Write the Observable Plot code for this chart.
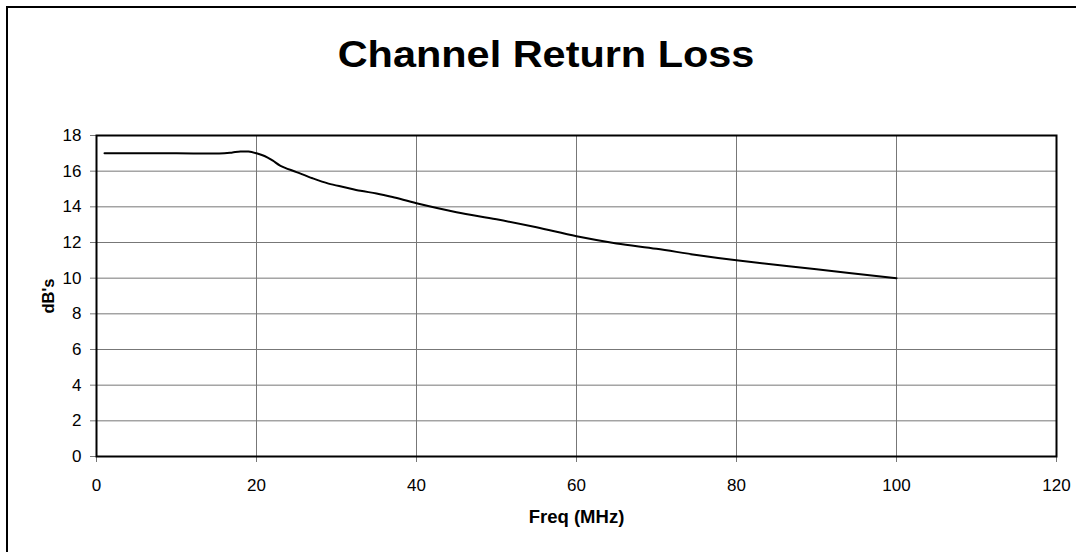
<!DOCTYPE html>
<html>
<head>
<meta charset="utf-8">
<script src="https://cdn.jsdelivr.net/npm/d3@7"></script>
<script src="https://cdn.jsdelivr.net/npm/@observablehq/plot@0.6"></script>
<style>
  html, body { margin: 0; padding: 0; background: #fff; overflow: hidden; }
  #wrap { width: 1076px; height: 552px; position: relative; overflow: hidden; font-family: "Liberation Sans", Arial, sans-serif; background: #fff; }
  #edgeL { position: absolute; left: 6px; top: 6px; width: 2px; height: 600px; background: #000; }
  #edgeT { position: absolute; left: 6px; top: 6px; width: 1200px; height: 2px; background: #000; }
  #title { position: relative; height: 80px; width: 1076px; box-sizing: border-box; padding-top: 36px; line-height: 1; text-align: center; font-size: 37px; font-weight: bold; color: #000; }
  #title span { display: inline-block; transform: translateX(8px) scaleX(1.12); transform-origin: center; }
  #chart { position: relative; width: 1076px; }
  #chart svg { display: block; }
</style>
</head>
<body>
<div id="wrap">
<div id="edgeL"></div>
<div id="edgeT"></div>
<div id="title"><span>Channel Return Loss</span></div>
<div id="chart"></div>
</div>
<script>
// Data
const freqMHz = [1, 5, 10, 16, 17, 18, 19, 20, 21, 22, 23, 25, 27, 29, 31, 33, 35, 37, 40, 45, 50, 55, 60, 65, 70, 75, 80, 90, 100];
const returnLossDb = [17, 17, 17, 17, 17.05, 17.1, 17.1, 17.0, 16.85, 16.6, 16.3, 15.95, 15.6, 15.3, 15.1, 14.9, 14.75, 14.55, 14.2, 13.7, 13.3, 12.85, 12.35, 11.95, 11.65, 11.3, 11.0, 10.5, 10.0];
const xTicks = [0, 20, 40, 60, 80, 100, 120];
const yTicks = [0, 2, 4, 6, 8, 10, 12, 14, 16, 18];

const data = freqMHz.map((f, i) => ({f, db: returnLossDb[i]}));

const chart = Plot.plot({
  width: 1076,
  height: 472,
  marginLeft: 96,
  marginRight: 20,
  marginTop: 55,
  marginBottom: 96,
  style: {fontFamily: "'Liberation Sans', Arial, sans-serif", fontSize: "17px", color: "#000", background: "transparent"},
  x: {domain: [0, 120]},
  y: {domain: [0, 18]},
  marks: [
    Plot.gridX(xTicks.slice(1), {stroke: "#777", strokeOpacity: 1, strokeWidth: 1}),
    Plot.gridY(yTicks.slice(1), {stroke: "#777", strokeOpacity: 1, strokeWidth: 1}),
    Plot.axisX(xTicks, {tickSize: 6, tickPadding: 16, stroke: "#777", label: "Freq (MHz)", labelAnchor: "center", labelArrow: "none", labelOffset: 66, fontSize: 17}),
    Plot.axisY(yTicks, {tickSize: 6, tickPadding: 9, stroke: "#777", label: "dB's", labelAnchor: "center", labelArrow: "none", labelOffset: 54, fontSize: 17}),
    Plot.frame({stroke: "#000", strokeWidth: 2}),
    Plot.line(data, {x: "f", y: "db", stroke: "#000", strokeWidth: 2, curve: "catmull-rom"})
  ]
});
document.getElementById("chart").appendChild(chart);
// Bold axis labels
chart.querySelectorAll("[aria-label='x-axis label'] text").forEach(t => {
  t.setAttribute("font-weight", "bold");
  t.setAttribute("font-size", "18.5");
});
chart.querySelectorAll("[aria-label='y-axis label'] text").forEach(t => {
  t.setAttribute("font-weight", "bold");
  t.setAttribute("font-size", "16.5");
});
</script>
</body>
</html>
